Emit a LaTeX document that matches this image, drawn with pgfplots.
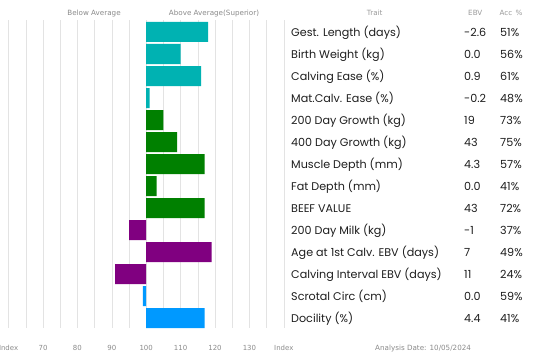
\documentclass[border=0pt]{standalone}
\usepackage{pgfplots}
\pgfplotsset{compat=1.18}
\usepackage{fontspec}
\setmainfont{Poppins}
\newfontfamily\vfont{DejaVu Sans}
\definecolor{cteal}{HTML}{00B2B2}
\definecolor{cgreen}{HTML}{008000}
\definecolor{cpurple}{HTML}{800080}
\definecolor{cblue}{HTML}{0099FF}
\definecolor{lblgray}{HTML}{8A8A8A}
\definecolor{hdrgray}{HTML}{9A9A9A}
\definecolor{txt}{HTML}{1E1E1E}
\begin{document}
\begin{tikzpicture}[x=1bp,y=1bp]
\useasboundingbox (0,0) rectangle (550,362);
\begin{axis}[at={(0bp,34bp)}, anchor=south west, scale only axis,
  width=283.8bp, height=308bp,
  xmin=-42.5, xmax=40, ymin=0.5455, ymax=14.5455,
  x filter/.expression={x-100},
  xbar, bar width=20bp, bar shift=0pt,
  xtick={-40,-30,...,40}, xticklabels={Index,70,80,90,100,110,120,130,Index},
  minor xtick={-35,-25,...,35}, xmajorgrids, xminorgrids,
  grid style={draw=black!11, line width=0.6pt},
  minor grid style={draw=black!11, line width=0.6pt},
  ytick=\empty, axis line style={draw=none},
  major tick length=0pt, minor tick length=0pt,
  xticklabel style={font=\vfont\fontsize{7}{8}\selectfont, text=lblgray, anchor=base, yshift=-22.5bp},
  clip=false]
% y = 15 - row number (row 1 at top)
\addplot[fill=cteal, draw=none] coordinates {(118,14) (110,13) (116,12) (101,11)};
\addplot[fill=cgreen, draw=none] coordinates {(105,10) (109,9) (117,8) (103,7) (117,6)};
\addplot[fill=cpurple, draw=none] coordinates {(95,5) (119,4) (91,3)};
\addplot[fill=cblue, draw=none] coordinates {(99,2) (117,1)};
\end{axis}
\begin{scope}[every node/.style={inner sep=0pt, text=lblgray, font=\vfont\fontsize{7.2}{8}\selectfont}]
\node[anchor=base] at (94,346.5) {Below Average};
\node[anchor=base] at (214,346.5) {Above Average(Superior)};
\node[anchor=base west] at (375,12) {Analysis Date: 10/05/2024};
\end{scope}
\begin{scope}[every node/.style={inner sep=0pt, text=hdrgray, font=\vfont\fontsize{7.2}{8}\selectfont}]
\node[anchor=base] at (374.7,347) {Trait};
\node[anchor=base] at (475.3,347) {EBV};
\node[anchor=base] at (511,347) {Acc \,\%};
\end{scope}
\begin{scope}[every node/.style={inner sep=0pt, text=txt, font=\fontsize{11.2}{13}\selectfont}]
\foreach \i/\t/\e/\a in {
 1/{Gest. Length (days)}/-2.6/51\%,
 2/{Birth Weight (kg)}/0.0/56\%,
 3/{Calving Ease (\%)}/0.9/61\%,
 4/{Mat.Calv. Ease (\%)}/-0.2/48\%,
 5/{200 Day Growth (kg)}/19/73\%,
 6/{400 Day Growth (kg)}/43/75\%,
 7/{Muscle Depth (mm)}/4.3/57\%,
 8/{Fat Depth (mm)}/0.0/41\%,
 9/{BEEF VALUE}/43/72\%,
 10/{200 Day Milk (kg)}/-1/37\%,
 11/{Age at 1st Calv. EBV (days)}/7/49\%,
 12/{Calving Interval EBV (days)}/11/24\%,
 13/{Scrotal Circ (cm)}/0.0/59\%,
 14/{Docility (\%)}/4.4/41\%}{
  \node[anchor=base west] at (291,{362-36-22*(\i-1)}) {\t};
  \node[anchor=base west] at (464,{362-36-22*(\i-1)}) {\e};
  \node[anchor=base west] at (500,{362-36-22*(\i-1)}) {\a};
}
\end{scope}
\end{tikzpicture}
\end{document}
